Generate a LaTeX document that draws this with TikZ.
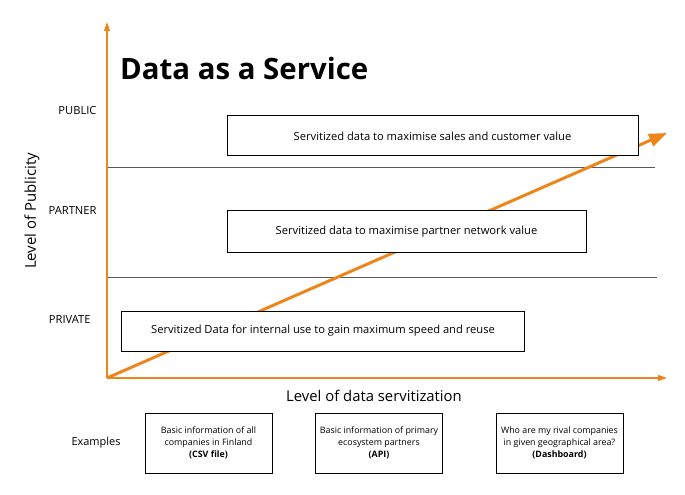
\documentclass[tikz,border=0pt]{standalone}
\usepackage{fontspec}
\setmainfont{Open Sans}
\usetikzlibrary{arrows.meta}
\definecolor{orng}{RGB}{236,134,28}
\definecolor{sep}{RGB}{90,90,90}
\tikzset{
  axis/.style={draw=orng, line width=1.3bp, -{Triangle[width=6bp,length=9bp]}},
  trend/.style={draw=orng, line width=3bp, -{Triangle[width=13bp,length=18bp]}},
  levelbox/.style={draw=black, line width=1bp, fill=white, inner sep=0pt, font=\fontsize{11.2}{13}\selectfont},
  exbox/.style={draw=black, line width=1bp, fill=white, inner sep=0pt, align=center, font=\fontsize{8.9}{12.2}\selectfont},
  lvl/.style={anchor=east, font=\fontsize{11.2}{13}\selectfont},
  sepline/.style={draw=sep, line width=0.8bp},
}
\begin{document}
\begin{tikzpicture}[x=1bp,y=-1bp]
\useasboundingbox (0,0) rectangle (685,495);
\coordinate (o) at (107,378);
\coordinate (ytip) at (107,22);
\coordinate (xtip) at (667,378);
\coordinate (dtip) at (667,133);
\coordinate (s1a) at (107,167); \coordinate (s1b) at (655,167);
\coordinate (s2a) at (107,277); \coordinate (s2b) at (657,277);
\draw[sepline] (s1a) -- (s1b);
\draw[sepline] (s2a) -- (s2b);
\draw[trend] (o) -- (dtip);
\draw[axis] (o) -- (ytip);
\draw[axis] (o) -- (xtip);
\node[anchor=base west, inner sep=0pt, font=\fontsize{29.5}{34}\bfseries\selectfont] (title) at (120,80) {Data as a Service};
\node[lvl] (pub) at (100,111) {PUBLIC};
\node[lvl] (par) at (100,211) {PARTNER};
\node[lvl] (pri) at (94,319) {PRIVATE};
\node[rotate=90, font=\fontsize{15}{18}\selectfont] (ylab) at (32,211) {Level of Publicity};
\node[font=\fontsize{14.9}{18}\selectfont] (xlab) at (374,396) {Level of data servitization};
\node[levelbox, minimum width=411bp, minimum height=40bp] (b1) at (432.5,136) {Servitized data to maximise sales and customer value};
\node[levelbox, minimum width=359bp, minimum height=41bp] (b2) at (406.5,231.5) {Servitized data to maximise partner network value};
\node[levelbox, minimum width=402bp, minimum height=40bp] (b3) at (323,331) {Servitized Data for internal use to gain maximum speed and reuse};
\node[font=\fontsize{11}{13}\selectfont] (ex) at (96,443) {Examples};
\node[exbox, minimum width=127bp, minimum height=60bp] (e1) at (208.5,443) {Basic information of all\\companies in Finland\\\textbf{(CSV file)}};
\node[exbox, minimum width=127bp, minimum height=60bp] (e2) at (379,443) {Basic information of primary\\ecosystem partners\\\textbf{(API)}};
\node[exbox, minimum width=127bp, minimum height=60bp] (e3) at (559.5,443) {Who are my rival companies\\in given geographical area?\\\textbf{(Dashboard)}};
\end{tikzpicture}
\end{document}
